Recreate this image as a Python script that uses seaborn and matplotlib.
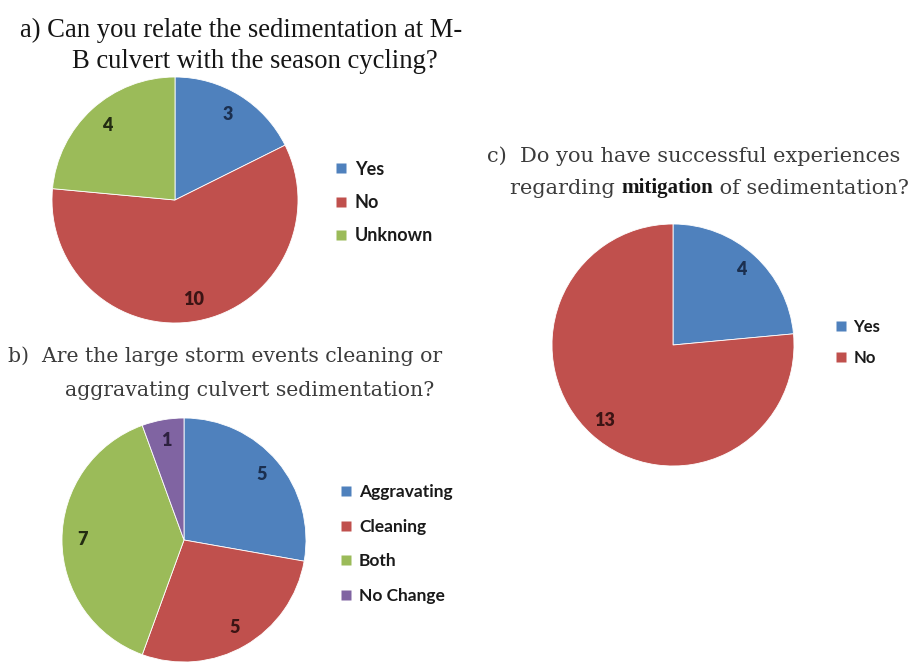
import matplotlib
matplotlib.use("Agg")
import matplotlib.pyplot as plt
import seaborn as sns
from matplotlib.lines import Line2D

sns.set_theme(style="white")
plt.rcParams['font.family'] = ['Lato', 'DejaVu Sans']

W, H = 916, 663

# ---- data ----
a_labels = ["Yes", "No", "Unknown"]
a_values = [3, 10, 4]
b_labels = ["Aggravating", "Cleaning", "Both", "No Change"]
b_values = [5, 5, 7, 1]
c_labels = ["Yes", "No"]
c_values = [4, 13]

a_title = ["a) Can you relate the sedimentation at M-", "B culvert with the season cycling?"]
b_title = ["b)  Are the large storm events cleaning or", "aggravating culvert sedimentation?"]
c_title1 = "c)  Do you have successful experiences"
c_title2 = ["regarding ", "mitigation", " of sedimentation?"]

palette = sns.color_palette(["#4F81BD", "#C0504D", "#9BBB59", "#8064A2"])
label_colors = ["#1b2f4f", "#3b1414", "#232c12", "#2e2140"]

fig = plt.figure(figsize=(W / 100, H / 100), dpi=100)
fig.patch.set_facecolor("white")
renderer = fig.canvas.get_renderer()


def add_pie(cx, cy, r, values, labels, leg_x, leg_y, pctd, leg_fs, msize, lspace):
    ax = fig.add_axes([(cx - r) / W, 1 - (cy + r) / H, 2 * r / W, 2 * r / H])
    total = sum(values)
    wedges, texts, autotexts = ax.pie(
        values, colors=palette[:len(values)], startangle=90, counterclock=False,
        autopct=lambda p: f"{round(p * total / 100):d}", pctdistance=pctd,
        wedgeprops=dict(edgecolor="white", linewidth=0.6),
        textprops=dict(fontsize=13, fontweight="heavy", family=["Lato"]))
    for t, c in zip(autotexts, label_colors):
        t.set_color(c)
    ax.set_xlim(-1, 1)
    ax.set_ylim(-1, 1)
    ax.set_aspect("equal")
    ax.axis("off")
    handles = [Line2D([], [], marker="s", linestyle="none", markersize=msize,
                      markerfacecolor=palette[i], markeredgecolor="none")
               for i in range(len(values))]
    fig.legend(handles, labels, loc="center left",
               bbox_to_anchor=(leg_x / W, 1 - leg_y / H), frameon=False,
               borderpad=0, borderaxespad=0, handlelength=0.7, handletextpad=0.4,
               labelspacing=lspace, labelcolor="#1a1a1a",
               prop=dict(family="Lato", weight="bold", size=leg_fs))
    return ax


add_pie(175, 200, 123, a_values, a_labels, 335, 202.5, 0.82, 13, 7.5, 0.91)
add_pie(184, 540, 122, b_values, b_labels, 340, 544, 0.83, 12.5, 7.5, 1.06)
add_pie(673, 345, 121, c_values, c_labels, 835, 342, 0.84, 12, 6.5, 0.9)


def put(s, x_left, y_mid, size, **kw):
    return fig.text(x_left / W, 1 - y_mid / H, s, ha="left", va="center",
                    fontsize=size, **kw)


def fit_size(s, width, **kw):
    t = fig.text(0, 0, s, fontsize=20, **kw)
    bb = t.get_window_extent(renderer)
    t.remove()
    return 20 * width / bb.width


def width_of(t):
    return t.get_window_extent(renderer).width


serif_a = dict(family=["Liberation Serif"], color="#151515")
serif_m = dict(family=["Liberation Serif"], color="#151515", fontweight="bold")
serif_b = dict(family=["DejaVu Serif"], color="#3c3c3c")

# title a
sa = fit_size(a_title[0], 443, **serif_a)
put(a_title[0], 20, 30, sa, **serif_a)
put(a_title[1], 72, 61, sa, **serif_a)

# title b
sb = fit_size(b_title[0], 434, **serif_b)
put(b_title[0], 8, 356, sb, **serif_b)
put(b_title[1], 65, 390, sb, **serif_b)

# title c
sc = fit_size(c_title1, 411, **serif_b)
put(c_title1, 487, 156, sc, **serif_b)
t1 = put(c_title2[0], 510, 189, sc, **serif_b)
x = 510 + width_of(t1)
sm = fit_size(c_title2[1], 92, **serif_m)
t2 = put(c_title2[1], x, 188, sm, **serif_m)
x += width_of(t2)
put(c_title2[2], x, 189, sc, **serif_b)

fig.savefig("out.png", dpi=100, facecolor="white")
